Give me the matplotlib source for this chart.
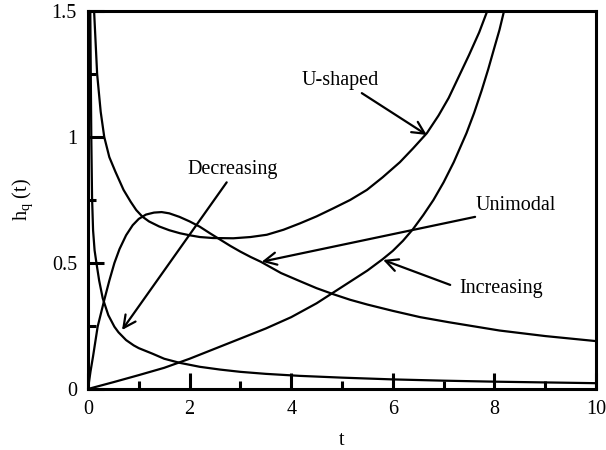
import matplotlib
matplotlib.use('Agg')
import matplotlib.pyplot as plt

plt.rcParams['font.family'] = ['Liberation Serif', 'DejaVu Serif']
plt.rcParams['mathtext.fontset'] = 'custom'
plt.rcParams['mathtext.rm'] = 'Liberation Serif'
plt.rcParams['mathtext.it'] = 'Liberation Serif:italic'

# values
t_dec = [0.035, 0.045, 0.055, 0.065, 0.08, 0.1, 0.13, 0.17, 0.22, 0.29, 0.4, 0.52,
         0.6, 0.75, 0.9, 1.0, 1.27, 1.5, 1.8, 2.2, 2.6, 3.0, 3.5, 4.17, 5.0, 6.0,
         7.0, 8.0, 9.0, 10.0]
h_dec = [1.7, 1.5, 1.25, 1.0, 0.76, 0.63, 0.55, 0.495, 0.43, 0.36, 0.293, 0.247,
         0.225, 0.194, 0.173, 0.162, 0.14, 0.12, 0.104, 0.088, 0.077, 0.068, 0.06,
         0.052, 0.045, 0.038, 0.033, 0.029, 0.026, 0.023]

t_uni = [0, 0.05, 0.1, 0.19, 0.32, 0.42, 0.52, 0.62, 0.75, 0.88, 1.0, 1.14, 1.3,
         1.45, 1.6, 1.8, 2.0, 2.2, 2.4, 2.6, 2.8, 3.0, 3.2, 3.4, 3.8, 4.17, 4.5,
         4.83, 5.16, 5.5, 6.0, 6.54, 7.1, 8.1, 9.0, 10.0]
h_uni = [0, 0.07, 0.13, 0.247, 0.353, 0.43, 0.5, 0.555, 0.61, 0.65, 0.675, 0.692,
         0.70, 0.702, 0.697, 0.683, 0.665, 0.644, 0.618, 0.593, 0.568, 0.545, 0.524,
         0.505, 0.46, 0.428, 0.40, 0.376, 0.354, 0.335, 0.31, 0.285, 0.265, 0.232,
         0.21, 0.19]

t_ush = [0.1, 0.12, 0.18, 0.25, 0.32, 0.42, 0.54, 0.7, 0.84, 0.95, 1.07, 1.2, 1.4,
         1.6, 1.81, 2.0, 2.2, 2.46, 2.86, 3.2, 3.52, 3.85, 4.17, 4.5, 4.83, 5.16,
         5.49, 5.8, 6.14, 6.4, 6.67, 6.9, 7.1, 7.3, 7.5, 7.7, 7.86, 7.95]
h_ush = [1.7, 1.5, 1.25, 1.1, 1.0, 0.92, 0.862, 0.79, 0.743, 0.71, 0.684, 0.665,
         0.645, 0.63, 0.618, 0.61, 0.603, 0.599, 0.598, 0.603, 0.612, 0.632, 0.657,
         0.685, 0.717, 0.75, 0.79, 0.84, 0.9, 0.955, 1.015, 1.085, 1.155, 1.24,
         1.325, 1.415, 1.5, 1.55]

t_inc = [0, 0.5, 1, 1.5, 2, 2.5, 3, 3.5, 4, 4.5, 5, 5.5, 5.8, 6.0, 6.2, 6.4, 6.6,
         6.8, 7.0, 7.2, 7.45, 7.6, 7.75, 7.88, 8.0, 8.1, 8.19, 8.25]
h_inc = [0, 0.027, 0.055, 0.084, 0.12, 0.16, 0.2, 0.24, 0.285, 0.34, 0.405, 0.47,
         0.515, 0.548, 0.588, 0.635, 0.69, 0.75, 0.82, 0.9, 1.015, 1.095, 1.185,
         1.27, 1.355, 1.425, 1.5, 1.55]

labels = ['U-shaped', 'Decreasing', 'Unimodal', 'Increasing']
label_xy = [(4.96, 1.226), (2.85, 0.87), (8.42, 0.73), (8.13, 0.40)]
arrow_from = [(5.39, 1.174), (2.73, 0.82), (7.62, 0.683), (7.13, 0.413)]
arrow_to = [(6.67, 1.008), (0.67, 0.234), (3.42, 0.505), (5.81, 0.512)]

fig = plt.figure(figsize=(6.06, 4.5), dpi=100)
ax = fig.add_axes([0.1452, 0.1356, 0.8383, 0.84])

for t, h in [(t_dec, h_dec), (t_uni, h_uni), (t_ush, h_ush), (t_inc, h_inc)]:
    ax.plot(t, h, color='black', lw=1.6, solid_joinstyle='round')

for name, lxy, a0, a1 in zip(labels, label_xy, arrow_from, arrow_to):
    ax.text(lxy[0], lxy[1], name, fontsize=14.5, ha='center', va='center')
    ax.annotate('', xy=a1, xytext=a0,
                arrowprops=dict(arrowstyle='->', lw=1.6, color='black',
                                mutation_scale=22, shrinkA=0, shrinkB=0))

ax.set_xlim(0, 10)
ax.set_ylim(0, 1.5)
ax.set_xticks([0, 2, 4, 6, 8, 10])
ax.set_xticks([1, 3, 5, 7, 9], minor=True)
ax.set_yticks([0, 0.5, 1, 1.5])
ax.set_yticklabels(['0', '0.5', '1', '1.5'])
ax.set_yticks([0.25, 0.75, 1.25], minor=True)
ax.tick_params(which='both', direction='in', top=False, right=False,
               labelsize=14.5, width=2.2, pad=8)
ax.tick_params(which='major', length=11.5)
ax.tick_params(which='minor', length=5.5)
for s in ax.spines.values():
    s.set_linewidth(2.2)

ax.set_xlabel('t', fontsize=14.5)
ax.set_ylabel(r'h$_\mathregular{q}$ (t)', fontsize=14.5)
ax.xaxis.set_label_coords(0.5, -0.11)
ax.yaxis.set_label_coords(-0.105, 0.5)

fig.savefig('out.png', dpi=100)
